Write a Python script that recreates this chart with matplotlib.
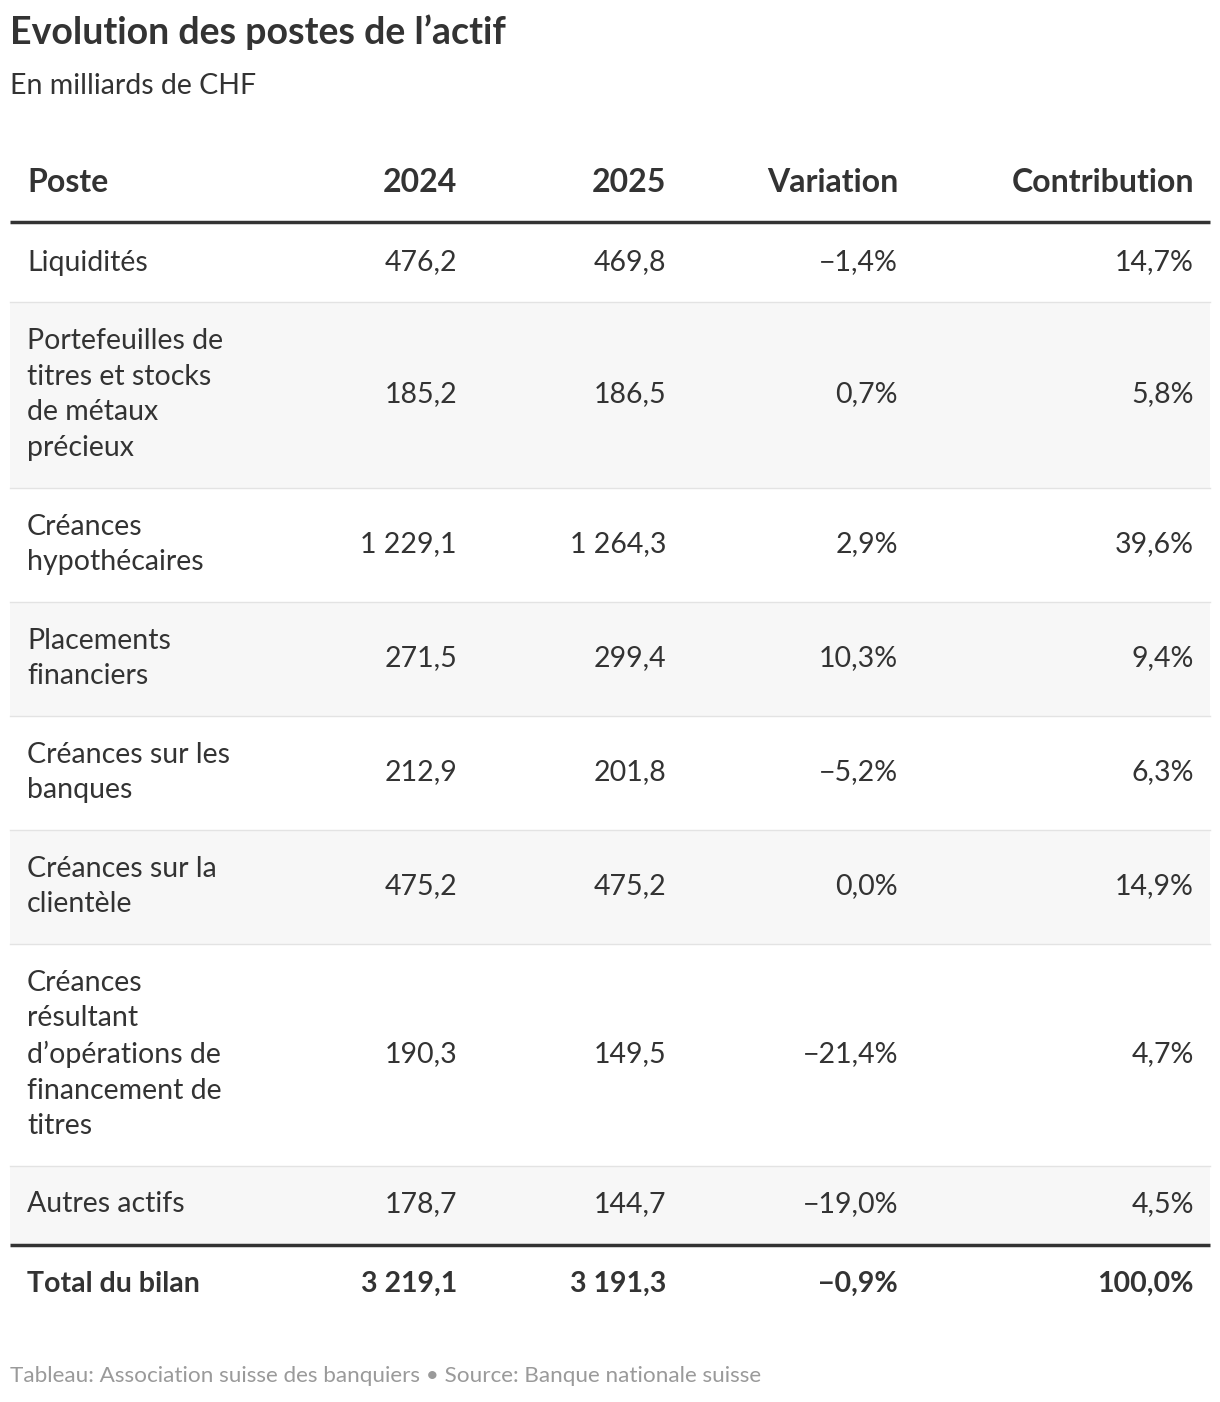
import matplotlib.pyplot as plt
from matplotlib.patches import Rectangle

plt.rcParams['font.family'] = ['Lato', 'DejaVu Sans']

# data
postes = [
    "Liquidités",
    "Portefeuilles de\ntitres et stocks\nde métaux\nprécieux",
    "Créances\nhypothécaires",
    "Placements\nfinanciers",
    "Créances sur les\nbanques",
    "Créances sur la\nclientèle",
    "Créances\nrésultant\nd’opérations de\nfinancement de\ntitres",
    "Autres actifs",
]
v2024 = ["476,2", "185,2", "1 229,1", "271,5", "212,9", "475,2", "190,3", "178,7"]
v2025 = ["469,8", "186,5", "1 264,3", "299,4", "201,8", "475,2", "149,5", "144,7"]
variation = ["−1,4%", "0,7%", "2,9%", "10,3%", "−5,2%", "0,0%", "−21,4%", "−19,0%"]
contribution = ["14,7%", "5,8%", "39,6%", "9,4%", "6,3%", "14,9%", "4,7%", "4,5%"]
total = ["Total du bilan", "3 219,1", "3 191,3", "−0,9%", "100,0%"]
headers = ["Poste", "2024", "2025", "Variation", "Contribution"]

W, H = 1220, 1402
fig = plt.figure(figsize=(W / 100, H / 100), dpi=100)
ax = fig.add_axes([0, 0, 1, 1])
ax.set_xlim(0, W)
ax.set_ylim(H, 0)
ax.axis('off')

dark = '#333333'
col_x = [27, 457, 666, 898, 1194]
col_ha = ['left', 'right', 'right', 'right', 'right']
fs = 20.5

fig.text(10 / W, 1 - 32 / H, "Evolution des postes de l’actif", fontsize=27,
         fontweight='bold', color=dark, va='center')
fig.text(10 / W, 1 - 86 / H, "En milliards de CHF", fontsize=20.5, color=dark, va='center')

for x, ha, h in zip(col_x, col_ha, headers):
    ax.text(x, 182, h, ha=ha, va='center', fontsize=23, fontweight='bold', color=dark)
ax.plot([10, 1210], [222, 222], color=dark, lw=2.5, solid_capstyle='butt')

y = 223.5
for i, name in enumerate(postes):
    n = name.count('\n') + 1
    h = 42 + 36 * n
    if i % 2 == 1:
        ax.add_patch(Rectangle((10, y), 1200, h, color='#f7f7f7', lw=0))
    if i > 0:
        ax.plot([10, 1210], [y, y], color='#e3e3e3', lw=1)
    yc = y + h / 2
    row = [name, v2024[i], v2025[i], variation[i], contribution[i]]
    for x, ha, t in zip(col_x, col_ha, row):
        ax.text(x, yc, t, ha=ha, va='center', fontsize=fs, color=dark,
                linespacing=1.45)
    y += h

ax.plot([10, 1210], [y + 1, y + 1], color=dark, lw=2.5, solid_capstyle='butt')
for x, ha, t in zip(col_x, col_ha, total):
    ax.text(x, 1284, t, ha=ha, va='center', fontsize=fs, fontweight='bold', color=dark)

fig.text(10 / W, 1 - 1376 / H,
         "Tableau: Association suisse des banquiers • Source: Banque nationale suisse",
         fontsize=16.2, color='#9a9a9a', va='center')

fig.savefig('out.png', dpi=100)
